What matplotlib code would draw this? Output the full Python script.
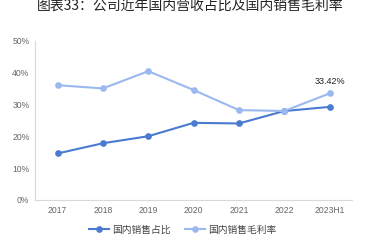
import matplotlib.pyplot as plt

plt.rcParams['font.family'] = ['Noto Sans CJK SC', 'DejaVu Sans']

# 数据
years = ['2017', '2018', '2019', '2020', '2021', '2022', '2023H1']
domestic_share = [14.6, 17.8, 20.0, 24.2, 24.0, 27.9, 29.2]
domestic_margin = [36.0, 35.0, 40.4, 34.5, 28.2, 27.9, 33.42]
yticks = [0, 10, 20, 30, 40, 50]

dark = '#4a7bd0'
light = '#9bb8ef'

fig = plt.figure(figsize=(3.71, 2.43), dpi=100)
ax = fig.add_axes([0.0943, 0.177, 0.855, 0.656])

x = list(range(len(years)))
ax.plot(x, domestic_share, color=dark, marker='o', markersize=3.8, linewidth=1.5, label='国内销售占比')
ax.plot(x, domestic_margin, color=light, marker='o', markersize=3.8, linewidth=1.5, label='国内销售毛利率')

ax.annotate(f'{domestic_margin[-1]:.2f}%', (x[-1], domestic_margin[-1]), xytext=(0, 5),
            textcoords='offset points', ha='center', va='bottom', fontsize=6.5,
            color='#222222', family=['Liberation Sans', 'DejaVu Sans'])

ax.set_xlim(-0.5, len(years) - 0.5)
ax.set_ylim(0, 50)
ax.set_xticks(x)
ax.set_xticklabels(years)
ax.set_yticks(yticks)
ax.set_yticklabels([f'{v}%' for v in yticks])
for lbl in ax.get_xticklabels() + ax.get_yticklabels():
    lbl.set_family(['Liberation Sans', 'DejaVu Sans'])
    lbl.set_fontsize(6.2)
    lbl.set_color('#666666')
ax.tick_params(length=0, pad=4)

for s in ['top', 'right']:
    ax.spines[s].set_visible(False)
for s in ['left', 'bottom']:
    ax.spines[s].set_color('#d9d9d9')
    ax.spines[s].set_linewidth(0.8)

ax.legend(loc='upper center', bbox_to_anchor=(0.465, -0.1), ncol=2, frameon=False,
          fontsize=7, handlelength=2.1, columnspacing=1.5, handletextpad=0.25,
          labelcolor='#444444')

fig.text(0.513, 1 - 5.5 / 243, '图表33：公司近年国内营收占比及国内销售毛利率', ha='center', va='center',
         fontsize=10, color='#222222')

fig.savefig('out.png', dpi=100)
